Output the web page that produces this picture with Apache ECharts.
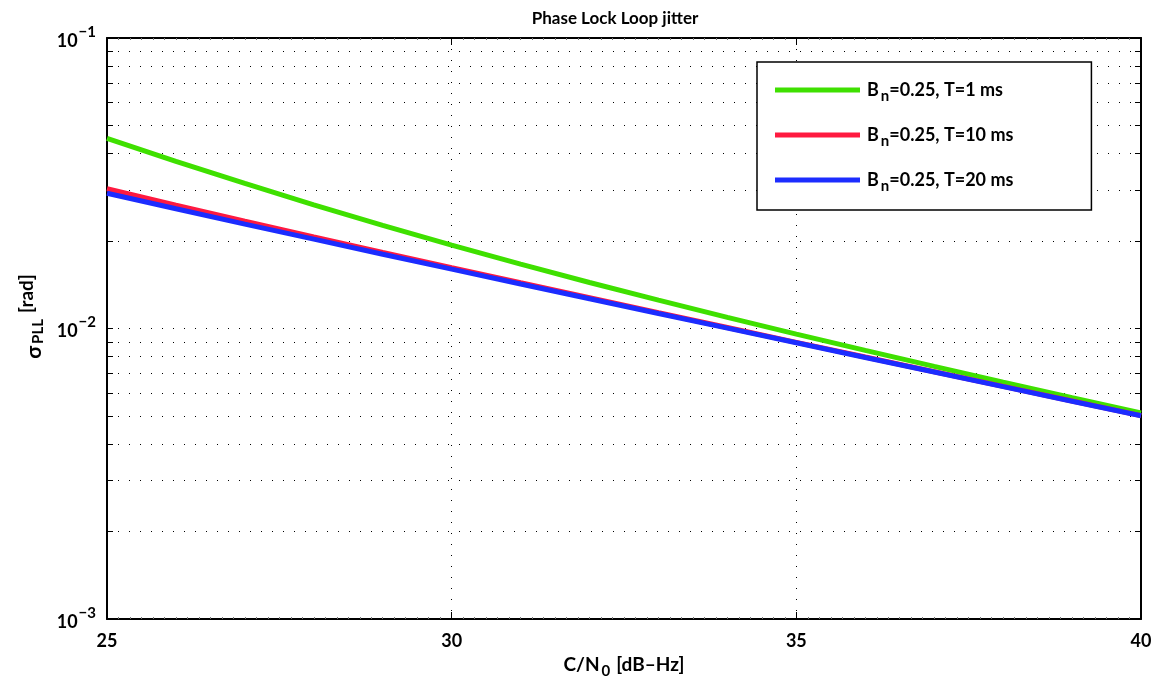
<!DOCTYPE html>
<html>
<head>
<meta charset="utf-8">
<style>
  html, body { margin: 0; padding: 0; background: #fff; }
  #chart { width: 1166px; height: 683px; }
</style>
<script src="https://cdn.jsdelivr.net/npm/echarts@6/dist/echarts.min.js"></script>
</head>
<body>
<div id="chart"></div>
<script>
// C/N0 sweep in dB-Hz
const cn0 = [25, 26, 27, 28, 29, 30, 31, 32, 33, 34, 35, 36, 37, 38, 39, 40];

// PLL tracking jitter [rad] for Bn = 0.25 Hz and three integration times
const jitterT1 = [0.04517, 0.03764, 0.03157, 0.02665, 0.02265, 0.01936, 0.01666, 0.01440,
                  0.01252, 0.01092, 0.009569, 0.008408, 0.007407, 0.006539, 0.005784, 0.005123];
const jitterT10 = [0.03026, 0.02659, 0.02342, 0.02068, 0.01829, 0.01620, 0.01437, 0.01276,
                   0.01133, 0.010075, 0.008962, 0.007974, 0.007098, 0.006319, 0.005628, 0.005012];
const jitterT20 = [0.02921, 0.02583, 0.02288, 0.02030, 0.01802, 0.01601, 0.01423, 0.01266,
                   0.01126, 0.010026, 0.008927, 0.007949, 0.007080, 0.006307, 0.005619, 0.005006];

const seriesNames = ['Bn=0.25, T=1 ms', 'Bn=0.25, T=10 ms', 'Bn=0.25, T=20 ms'];
const seriesLegend = {
  'Bn=0.25, T=1 ms': '{b|B}{s|n}{b|=0.25, T=1 ms}',
  'Bn=0.25, T=10 ms': '{b|B}{s|n}{b|=0.25, T=10 ms}',
  'Bn=0.25, T=20 ms': '{b|B}{s|n}{b|=0.25, T=20 ms}'
};

// log-axis ticks: decades plus 2..9 sub-divisions
const yTicks = [0.001, 0.002, 0.003, 0.004, 0.005, 0.006, 0.007, 0.008, 0.009,
                0.01, 0.02, 0.03, 0.04, 0.05, 0.06, 0.07, 0.08, 0.09, 0.1];
const yDecades = [0.001, 0.01, 0.1];
const decadeLabel = { 0.001: '−3', 0.01: '−2', 0.1: '−1' };

const FONT = 'Lato, "Open Sans", sans-serif';
const dotted = { color: '#000', width: 1, type: [1, 10] };

const pair = (xs, ys) => xs.map((x, i) => [x, ys[i]]);

const chart = echarts.init(document.getElementById('chart'), null, { renderer: 'canvas' });

const xAxisBase = {
  type: 'value', min: 25, max: 40, interval: 5,
  axisLine: { show: true, onZero: false, lineStyle: { color: '#000', width: 2 } },
  axisTick: { show: true, inside: true, length: 7, lineStyle: { color: '#000', width: 1 } },
  minorTick: { show: true, splitNumber: 30, length: 2, lineStyle: { color: '#777', width: 1 } },
  splitLine: { show: false }
};
const yAxisBase = {
  type: 'log', logBase: 10, min: 0.001, max: 0.1,
  axisLine: { show: true, onZero: false, lineStyle: { color: '#000', width: 2 } },
  axisTick: { show: true, inside: true, length: 6, customValues: yTicks, lineStyle: { color: '#000', width: 1 } },
  splitLine: { show: false }
};

chart.setOption({
  backgroundColor: '#fff',
  animation: false,
  title: {
    text: 'Phase Lock Loop jitter',
    left: 610, top: 5, textAlign: 'center',
    textStyle: { fontFamily: FONT, fontWeight: 'bold', fontSize: 17, color: '#000' }
  },
  grid: { left: 107, right: 25, top: 38, bottom: 64, containLabel: false, outerBoundsMode: 'none' },
  xAxis: [
    Object.assign({}, xAxisBase, {
      position: 'bottom',
      splitLine: { show: true, lineStyle: dotted },
      axisLabel: { show: true, margin: 13, fontFamily: FONT, fontWeight: 'bold', fontSize: 18, color: '#000' },
      name: '{b|C/N}{s|0}{b|[dB–Hz]}',
      nameLocation: 'middle', nameGap: 31,
      nameTextStyle: {
        rich: {
          b: { fontFamily: FONT, fontWeight: 'bold', fontSize: 19, color: '#000' },
          s: { fontFamily: FONT, fontWeight: 'bold', fontSize: 15, color: '#000', padding: [13, 6, 0, 2] }
        }
      }
    }),
    Object.assign({}, xAxisBase, { position: 'top', axisLabel: { show: false } })
  ],
  yAxis: [
    Object.assign({}, yAxisBase, {
      position: 'left',
      splitLine: { show: true, lineStyle: dotted },
      axisLabel: {
        show: true, margin: 11, customValues: yDecades,
        formatter: v => {
          const key = Object.keys(decadeLabel).find(k => Math.abs(Number(k) - v) < v * 1e-6);
          return '{b|10}{p|' + decadeLabel[key] + '}';
        },
        rich: {
          b: { fontFamily: FONT, fontWeight: 'bold', fontSize: 18, color: '#000', padding: [6, 0, 0, 0] },
          p: { fontFamily: FONT, fontWeight: 'bold', fontSize: 15, color: '#000', padding: [0, 0, 12, 1] }
        }
      },
      name: '{g|σ}{s|PLL}{b|[rad]}',
      nameLocation: 'middle', nameGap: 56, nameRotate: 90,
      nameTextStyle: {
        padding: [0, 0, 0, 24],
        rich: {
          g: { fontFamily: FONT, fontWeight: 'bold', fontSize: 21, color: '#000', padding: [8, 0, 0, 0] },
          b: { fontFamily: FONT, fontWeight: 'bold', fontSize: 19, color: '#000', padding: [0, 0, 6, 0] },
          s: { fontFamily: FONT, fontWeight: 'bold', fontSize: 15, color: '#000', padding: [17, 6, 0, 2] }
        }
      }
    }),
    Object.assign({}, yAxisBase, { position: 'right', axisLabel: { show: false } })
  ],
  legend: {
    data: seriesNames,
    orient: 'vertical',
    left: 757, top: 62,
    padding: [19, 78, 16, 18],
    itemGap: 22,
    itemWidth: 85, itemHeight: 5,
    icon: 'rect',
    backgroundColor: '#fff',
    borderColor: '#000', borderWidth: 1.5,
    formatter: name => seriesLegend[name],
    textStyle: {
      padding: [0, 0, 0, 2],
      rich: {
        b: { fontFamily: FONT, fontWeight: 'bold', fontSize: 18, color: '#000' },
        s: { fontFamily: FONT, fontWeight: 'bold', fontSize: 15, color: '#000', padding: [13, 0, 0, 2] }
      }
    }
  },
  series: [
    { name: seriesNames[0], type: 'line', data: pair(cn0, jitterT1), showSymbol: false, color: '#3fe000',
      lineStyle: { width: 5, color: '#3fe000' }, z: 3 },
    { name: seriesNames[1], type: 'line', data: pair(cn0, jitterT10), showSymbol: false, color: '#ff1a40',
      lineStyle: { width: 5, color: '#ff1a40' }, z: 4 },
    { name: seriesNames[2], type: 'line', data: pair(cn0, jitterT20), showSymbol: false, color: '#1c2cff',
      lineStyle: { width: 5, color: '#1c2cff' }, z: 5 }
  ]
});
</script>
</body>
</html>
